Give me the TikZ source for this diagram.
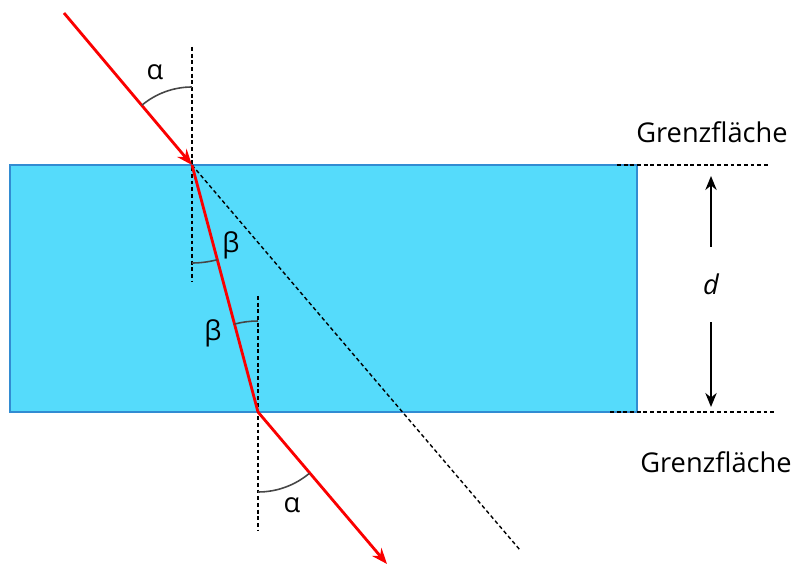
\documentclass[tikz,border=0pt]{standalone}
\usepackage{fontspec}
\setmainfont{Open Sans}
\usepackage{tikz}
\usetikzlibrary{arrows.meta, positioning, calc}
\definecolor{glascyan}{RGB}{85,219,251}
\definecolor{glasrand}{RGB}{50,140,210}
\definecolor{strahlrot}{RGB}{250,0,0}
\definecolor{bogengrau}{RGB}{70,70,70}
\tikzset{>={Stealth[length=9pt, width=7pt]}}
\tikzset{
  strahl/.style={strahlrot, line width=1.6pt},
  lot/.style={black, dash pattern=on 2.2pt off 1.6pt, line width=0.8pt},
  winkel/.style={bogengrau, line width=0.9pt},
  pfeil/.style={black, line width=0.9pt, -{Stealth[length=8pt, width=6.5pt]}},
  beschriftung/.style={font=\fontsize{15.5}{18}\selectfont, inner sep=0pt}
}

\begin{document}
\begin{tikzpicture}[x=0.02cm, y=0.02cm]
    \useasboundingbox (0,0) rectangle (794,565);
    % glass plate
    \draw[glasrand, fill=glascyan, line width=0.8pt] (10,153) rectangle (637,400);
    % points on the surfaces
    \coordinate (start) at (64,552);
    \coordinate (ein) at (192,400);
    \coordinate (aus) at (258,153);
    \coordinate (ende) at (387,1);
    \coordinate (verl) at (520,15);
    % normals
    \draw[lot] (192,518) -- (192,283);
    \draw[lot] (258,269) -- (258,35);
    % extension of the incoming ray
    \draw[lot] (ein) -- (verl);
    % surface lines on the right
    \draw[lot] (617,400) -- (768,400);
    \draw[lot] (610,153) -- (775,153);
    % rays
    \draw[strahl, ->] (start) -- (ein);
    \draw[strahl] (ein) -- (aus);
    \draw[strahl, ->] (aus) -- (ende);
    % angles
    \draw[winkel] (ein) ++(90:78) arc (90:130:78);
    \draw[winkel] (ein) ++(270:98) arc (270:285:98);
    \draw[winkel] (aus) ++(90:91) arc (90:105:91);
    \draw[winkel] (aus) ++(270:80) arc (270:310:80);
    \node[beschriftung] (alpha1) at (155,493) {α};
    \node[beschriftung] (beta1) at (231,320) {β};
    \node[beschriftung] (beta2) at (213,232) {β};
    \node[beschriftung] (alpha2) at (292,60) {α};
    % thickness d
    \node[beschriftung] (dicke) at (711,281) {\itshape d};
    \coordinate (oben) at (711,389);
    \coordinate (unten) at (711,158);
    \draw[pfeil] (711,318) -- (oben);
    \draw[pfeil] (711,243) -- (unten);
    % labels of the surfaces
    \node[beschriftung] (grenzoben) at (712,433) {Grenzfläche};
    \node[beschriftung] (grenzunten) at (716,103) {Grenzfläche};
  \end{tikzpicture}
\end{document}
